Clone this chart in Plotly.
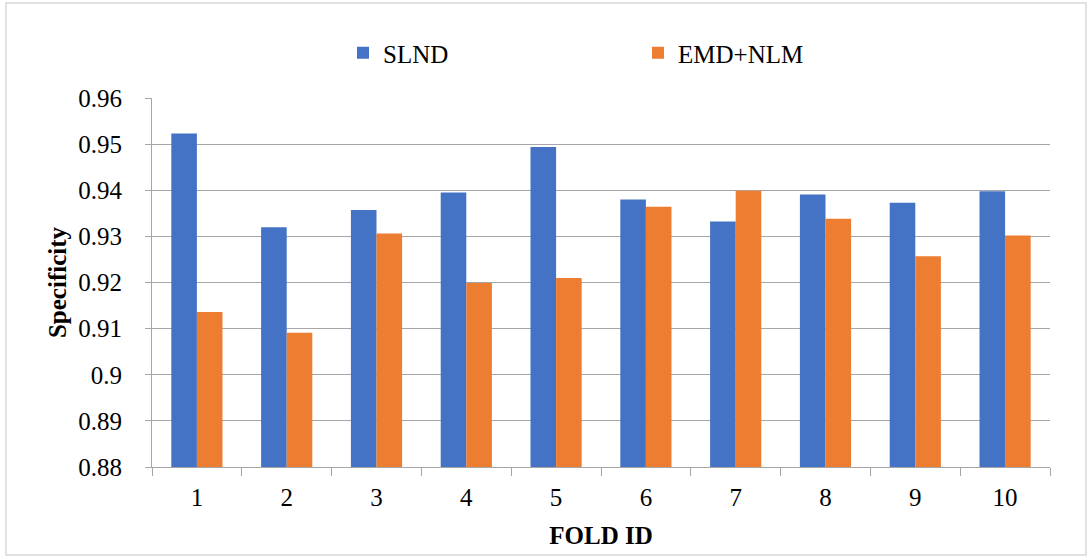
import plotly.graph_objects as go

# Specificity per cross-validation fold
fold_ids = ["1", "2", "3", "4", "5", "6", "7", "8", "9", "10"]
slnd = [0.9523, 0.9320, 0.9357, 0.9395, 0.9494, 0.9380, 0.9332, 0.9391, 0.9373, 0.9398]
emd_nlm = [0.9136, 0.9091, 0.9306, 0.9199, 0.9210, 0.9364, 0.9399, 0.9338, 0.9257, 0.9302]

y_ticks = [0.88, 0.89, 0.90, 0.91, 0.92, 0.93, 0.94, 0.95, 0.96]
y_tick_text = ["0.88", "0.89", "0.9", "0.91", "0.92", "0.93", "0.94", "0.95", "0.96"]

FONT = "Liberation Serif"
GRID = "#a6a6a6"

fig = go.Figure()
fig.add_trace(go.Bar(name="SLND", x=fold_ids, y=slnd,
                     marker=dict(color="#4472C4", line=dict(width=0))))
fig.add_trace(go.Bar(name="EMD+NLM", x=fold_ids, y=emd_nlm,
                     marker=dict(color="#ED7D31", line=dict(width=0))))

W, H = 1092, 557
ml, mr, mt, mb = 152, 42, 98, 90
pw, ph = W - ml - mr, H - mt - mb

fig.update_layout(
    width=W, height=H,
    margin=dict(l=ml, r=mr, t=mt, b=mb, pad=0),
    paper_bgcolor="white", plot_bgcolor="white",
    font=dict(family=FONT, size=25, color="black"),
    barmode="group", bargap=0.43, bargroupgap=0,
    showlegend=True,
    legend=dict(orientation="h", x=(343 - ml) / pw, xanchor="left",
                y=(H - mb - 53) / ph, yanchor="middle",
                entrywidth=250, entrywidthmode="pixels",
                font=dict(family=FONT, size=25, color="black"),
                bgcolor="rgba(0,0,0,0)"),
    xaxis=dict(
        type="category", tickson="boundaries", ticks="outside", ticklen=8,
        tickcolor=GRID, tickwidth=1, showline=True, linecolor=GRID, linewidth=1,
        showgrid=False, ticklabelstandoff=8,
        tickfont=dict(family=FONT, size=25, color="black"),
        title=dict(text="<b>FOLD ID</b>", font=dict(family=FONT, size=25, color="black"),
                   standoff=16),
    ),
    yaxis=dict(
        range=[0.88, 0.96], tickvals=y_ticks, ticktext=y_tick_text,
        ticks="outside", ticklen=6, tickcolor=GRID, tickwidth=1,
        showline=True, linecolor=GRID, linewidth=1,
        showgrid=True, gridcolor=GRID, gridwidth=1, zeroline=False,
        ticklabelstandoff=18,
        tickfont=dict(family=FONT, size=25, color="black"),
        title=dict(text="<b>Specificity</b>", font=dict(family=FONT, size=25, color="black"),
                   standoff=4),
    ),
    shapes=[dict(type="rect", xref="paper", yref="paper",
                 x0=(6 - ml) / pw, x1=(1086 - ml) / pw,
                 y0=(H - mb - 555) / ph, y1=(H - mb - 3) / ph,
                 line=dict(color="#d9d9d9", width=1.5), fillcolor="rgba(0,0,0,0)",
                 layer="below")],
)

fig.write_html("out.html")
